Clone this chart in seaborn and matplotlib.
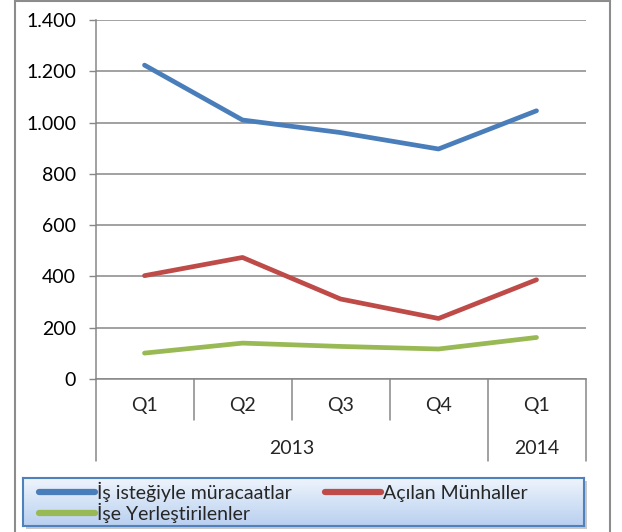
import numpy as np
import pandas as pd
import matplotlib
matplotlib.use("Agg")
import matplotlib.pyplot as plt
import seaborn as sns
from matplotlib.lines import Line2D
from matplotlib.patches import Rectangle
from matplotlib.colors import LinearSegmentedColormap

# ---- data ----
quarters = ["Q1", "Q2", "Q3", "Q4", "Q1"]
years = ["2013", "2014"]
year_spans = [4, 1]
series_names = ["İş isteğiyle müracaatlar", "Açılan Münhaller", "İşe Yerleştirilenler"]
basvuru = [1224, 1010, 961, 897, 1046]
munhal = [403, 474, 312, 236, 387]
yerlestirme = [101, 140, 127, 117, 162]
colors = ["#4A7EBB", "#BE4B48", "#98B954"]
yticks = [0, 200, 400, 600, 800, 1000, 1200, 1400]

rows = []
for name, vals in zip(series_names, [basvuru, munhal, yerlestirme]):
    for i, v in enumerate(vals):
        rows.append({"idx": i, "value": v, "series": name})
df = pd.DataFrame(rows)

sns.set_theme(style="white")
plt.rcParams["font.family"] = ["Lato", "DejaVu Sans"]
FS = 14

W, H = 622, 532
fig = plt.figure(figsize=(W / 100, H / 100), dpi=100)

# outer chart border
for xs, ys in [((15 / W, 15 / W), (0, 1)), ((610 / W, 610 / W), (0, 1)), ((15 / W, 610 / W), (1 - 1 / H, 1 - 1 / H))]:
    fig.add_artist(Line2D(xs, ys, color="#8c8c8c", lw=1.5, transform=fig.transFigure))

ax = fig.add_axes([95.5 / W, 1 - 379 / H, 490 / W, 359 / H])
sns.lineplot(data=df, x="idx", y="value", hue="series", palette=colors,
             hue_order=series_names, ax=ax, lw=3.4, legend=True)
for ln in ax.lines:
    ln.set_solid_capstyle("round")
    ln.set_solid_joinstyle("round")

ax.set_xlim(-0.5, len(quarters) - 0.5)
ax.set_ylim(0, 1400)
ax.set_yticks(yticks)
ax.set_yticklabels([f"{v:,}".replace(",", ".") for v in yticks], fontsize=FS, color="#000000")
ax.yaxis.grid(True, color="#878787", lw=1.1)
ax.set_axisbelow(True)
ax.tick_params(axis="y", left=True, length=5, width=1.0, color="#878787", pad=9)
ax.set_xticks([])
ax.set_xlabel("")
ax.set_ylabel("")
for s in ["top", "right"]:
    ax.spines[s].set_visible(False)
ax.spines["bottom"].set_color("#878787")
ax.spines["bottom"].set_linewidth(1.1)
ax.spines["left"].set_color("#878787")
ax.spines["left"].set_linewidth(1.1)

axh = 359.0
trans = ax.get_xaxis_transform()
bounds = np.arange(len(quarters) + 1) - 0.5
year_edges = np.concatenate([[0], np.cumsum(year_spans)]) - 0.5
for b in bounds:
    long = np.any(np.isclose(b, year_edges))
    y1 = -(461 - 379) / axh if long else -(420 - 379) / axh
    ax.plot([b, b], [0, y1], transform=trans, color="#878787", lw=1.1, clip_on=False)
for i, q in enumerate(quarters):
    ax.text(i, -(406 - 379) / axh, q, transform=trans, ha="center", va="center", fontsize=FS)
for k, yr in enumerate(years):
    c = (year_edges[k] + year_edges[k + 1]) / 2
    ax.text(c, -(448 - 379) / axh, yr, transform=trans, ha="center", va="center", fontsize=FS)

# legend box with gradient
lx0, ly0, lx1, ly1 = 23, 478, 584, 526
fig.add_artist(Rectangle(((lx0 + 3) / W, 1 - (ly1 + 3) / H), (lx1 - lx0) / W, (ly1 - ly0) / H,
                         transform=fig.transFigure, facecolor="#c8c8c8", edgecolor="none", zorder=1))
lax = fig.add_axes([lx0 / W, 1 - ly1 / H, (lx1 - lx0) / W, (ly1 - ly0) / H], zorder=2)
grad = np.linspace(0, 1, 100).reshape(-1, 1)
cmap = LinearSegmentedColormap.from_list("g", ["#EEF4FC", "#B9D0F0"])
lax.imshow(grad, aspect="auto", cmap=cmap, extent=[0, 1, 0, 1], origin="upper")
lax.set_xticks([]); lax.set_yticks([])
for s in lax.spines.values():
    s.set_color("#4F81BD"); s.set_linewidth(1.5)

handles, labels = ax.get_legend_handles_labels()
ax.get_legend().remove()
hmap = dict(zip(labels, handles))
order = [series_names[0], series_names[2], series_names[1]]
hs = [Line2D([0], [0], color=hmap[n].get_color(), lw=4.5, solid_capstyle="round") for n in order]
leg = fig.legend(hs, order, loc="upper left", bbox_to_anchor=(37 / W, 1 - 480 / H),
                 bbox_transform=fig.transFigure, ncol=2, frameon=False, fontsize=FS,
                 handlelength=2.9, handletextpad=0.1, columnspacing=1.7, labelspacing=0.02,
                 borderpad=0.1, borderaxespad=0)
leg.set_zorder(5)

fig.savefig("out.png", dpi=100)
